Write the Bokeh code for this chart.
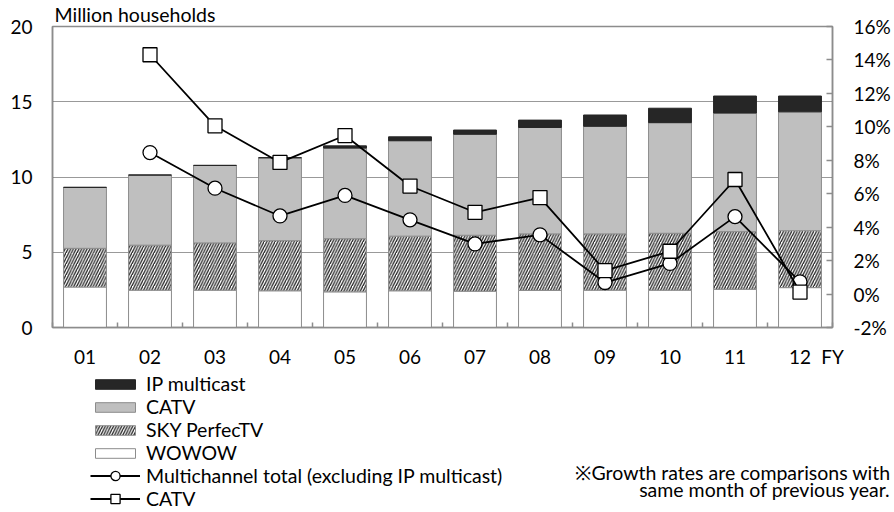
import numpy as np
import pandas as pd
from bokeh.plotting import figure
from bokeh.layouts import column
from bokeh.models import (ColumnDataSource, Range1d, LinearAxis, FixedTicker,
                          Label, Legend, LegendItem)
from bokeh.embed import file_html
from bokeh.resources import INLINE

# ---------------- data ----------------
years = ["01", "02", "03", "04", "05", "06", "07", "08", "09", "10", "11", "12"]
wowow = [2.69, 2.48, 2.48, 2.44, 2.37, 2.44, 2.41, 2.46, 2.48, 2.48, 2.54, 2.65]
sky = [2.57, 2.99, 3.14, 3.33, 3.53, 3.63, 3.72, 3.76, 3.74, 3.78, 3.83, 3.78]
catv = [4.05, 4.66, 5.15, 5.51, 6.02, 6.34, 6.71, 7.07, 7.15, 7.35, 7.88, 7.90]
ip_multicast = [0, 0, 0, 0, 0.15, 0.26, 0.28, 0.49, 0.75, 0.96, 1.13, 1.05]
growth_multichannel = [None, 8.46, 6.33, 4.67, 5.90, 4.44, 3.00, 3.54, 0.69, 1.83, 4.63, 0.73]
growth_catv = [None, 14.31, 10.06, 7.87, 9.48, 6.46, 4.89, 5.77, 1.40, 2.56, 6.85, 0.12]
left_ticks = [0, 5, 10, 15, 20]
right_ticks = [-2, 0, 2, 4, 6, 8, 10, 12, 14, 16]
fiscal_label = "FY"

FONT = "Lato"
TEXT_SIZE = "19.5px"
TICK_SIZE = "19px"
AXIS_GRAY = "#8c8c8c"
W_TOTAL = 894
TOP_H = 370
BOT_H = 142

STYLE_WOWOW = dict(fill_color="white", line_color=AXIS_GRAY, line_width=1)
STYLE_SKY = dict(fill_color="white", line_color=AXIS_GRAY, line_width=1,
                 hatch_pattern="right_diagonal_line", hatch_color="#222222",
                 hatch_scale=5.5, hatch_weight=1.3)
STYLE_CATV = dict(fill_color="#bfbfbf", line_color=AXIS_GRAY, line_width=1)
STYLE_IP = dict(fill_color="#262626", line_color="#262626", line_width=1)
STYLE_LINE = dict(line_color="black", line_width=1.8)
STYLE_MARK = dict(fill_color="white", line_color="black", line_width=1.3)

df = pd.DataFrame({"year": years, "wowow": wowow, "sky": sky, "catv": catv, "ip": ip_multicast})
df["x"] = np.arange(1, len(years) + 1)
df["b0"] = 0.0
df["t_wowow"] = df["wowow"]
df["t_sky"] = df["t_wowow"] + df["sky"]
df["t_catv"] = df["t_sky"] + df["catv"]
df["t_ip"] = df["t_catv"] + df["ip"]
src = ColumnDataSource(df)

lines = pd.DataFrame({"x": df["x"],
                      "multi": pd.Series(growth_multichannel, dtype="float"),
                      "catv_g": pd.Series(growth_catv, dtype="float")}).dropna()
lsrc = ColumnDataSource(lines)

# ---------------- main figure ----------------
p = figure(width=W_TOTAL, height=TOP_H, output_backend="svg", toolbar_location=None,
           x_range=Range1d(0.5, 12.5), y_range=Range1d(0, 20),
           title="Million households",
           min_border_left=52, min_border_right=62, min_border_top=25,
           min_border_bottom=34)
p.frame_align = False
p.extra_y_ranges = {"pct": Range1d(-2, 16)}
p.background_fill_color = "white"
p.border_fill_color = "white"
p.outline_line_color = AXIS_GRAY
p.outline_line_width = 1.5

p.title.align = "left"
p.title.offset = 2
p.title.standoff = 1
p.title.text_font = FONT
p.title.text_font_size = TEXT_SIZE
p.title.text_font_style = "normal"
p.title.text_color = "black"

# grid
p.xgrid.visible = False
p.ygrid.ticker = FixedTicker(ticks=[5, 10, 15])
p.ygrid.grid_line_color = "#333333"
p.ygrid.grid_line_dash = "1 1"
p.ygrid.grid_line_width = 1

# x axis (last tick at the frame edge carries the "FY" label)
xa = p.xaxis[0]
x_ticks = list(df["x"]) + [12.5]
xa.ticker = FixedTicker(ticks=x_ticks, minor_ticks=[i + 0.5 for i in range(0, 13)])
overrides = {int(x): y for x, y in zip(df["x"], years)}
overrides[12.5] = fiscal_label
xa.major_label_overrides = overrides
xa.major_tick_line_color = None
xa.minor_tick_in = 5
xa.minor_tick_out = 0
xa.minor_tick_line_color = AXIS_GRAY
xa.minor_tick_line_width = 1.5
xa.axis_line_color = AXIS_GRAY
xa.axis_line_width = 1.5
xa.major_label_standoff = 11
xa.major_label_text_font = FONT
xa.major_label_text_font_size = TICK_SIZE
xa.major_label_text_color = "black"

# left axis
ya = p.yaxis[0]
ya.ticker = FixedTicker(ticks=left_ticks)
ya.major_tick_in = 0
ya.major_tick_out = 0
ya.minor_tick_line_color = None
ya.axis_line_color = AXIS_GRAY
ya.axis_line_width = 1.5
ya.major_label_standoff = 20
ya.major_label_text_font = FONT
ya.major_label_text_font_size = TICK_SIZE
ya.major_label_text_color = "black"

# right axis
ra = LinearAxis(y_range_name="pct", ticker=FixedTicker(ticks=right_ticks))
ra.major_label_overrides = {t: f"{t}%" for t in right_ticks}
ra.major_tick_in = 6
ra.major_tick_out = 0
ra.major_tick_line_color = AXIS_GRAY
ra.major_tick_line_width = 1.5
ra.minor_tick_line_color = None
ra.axis_line_color = AXIS_GRAY
ra.axis_line_width = 1.5
ra.major_label_standoff = 21
ra.major_label_text_font = FONT
ra.major_label_text_font_size = TICK_SIZE
ra.major_label_text_color = "black"
p.add_layout(ra, "right")

# bars
W = 0.66
p.vbar(x="x", bottom="b0", top="t_wowow", width=W, source=src, **STYLE_WOWOW)
p.vbar(x="x", bottom="t_wowow", top="t_sky", width=W, source=src, **STYLE_SKY)
p.vbar(x="x", bottom="t_sky", top="t_catv", width=W, source=src, **STYLE_CATV)
p.vbar(x="x", bottom="t_catv", top="t_ip", width=W, source=src, **STYLE_IP)

# growth lines
p.line("x", "multi", source=lsrc, y_range_name="pct", **STYLE_LINE)
p.scatter("x", "multi", source=lsrc, y_range_name="pct", marker="circle", size=14, **STYLE_MARK)
p.line("x", "catv_g", source=lsrc, y_range_name="pct", **STYLE_LINE)
p.scatter("x", "catv_g", source=lsrc, y_range_name="pct", marker="square", size=14, **STYLE_MARK)

# ---------------- legend / note figure ----------------
q = figure(width=W_TOTAL, height=BOT_H, output_backend="svg", toolbar_location=None,
           x_range=Range1d(0, W_TOTAL), y_range=Range1d(BOT_H, 0),
           x_axis_location=None, y_axis_location=None,
           min_border=0, min_border_left=0, min_border_right=0,
           min_border_top=0, min_border_bottom=0)
q.frame_align = False
q.outline_line_color = None
q.grid.visible = False
q.background_fill_color = "white"
q.border_fill_color = "white"

# legend-key renderers: a single undrawn (NaN) entry each, only for the legend keys
key = ColumnDataSource(dict(x=[np.nan], y=[np.nan], b=[np.nan], t=[np.nan]))
k_ip = q.vbar(x="x", bottom="b", top="t", width=1, source=key, **STYLE_IP)
k_catv = q.vbar(x="x", bottom="b", top="t", width=1, source=key, **STYLE_CATV)
k_sky = q.vbar(x="x", bottom="b", top="t", width=1, source=key, **STYLE_SKY)
k_wowow = q.vbar(x="x", bottom="b", top="t", width=1, source=key, **STYLE_WOWOW)
k_l1 = q.line("x", "y", source=key, **STYLE_LINE)
k_m1 = q.scatter("x", "y", source=key, marker="circle", **STYLE_MARK)
k_l2 = q.line("x", "y", source=key, **STYLE_LINE)
k_m2 = q.scatter("x", "y", source=key, marker="square", **STYLE_MARK)


def style_legend(lg):
    lg.border_line_color = None
    lg.background_fill_alpha = 0
    lg.padding = 0
    lg.margin = 0
    lg.spacing = 0
    lg.label_text_font = FONT
    lg.label_text_font_size = TEXT_SIZE
    lg.label_text_color = "black"
    lg.label_standoff = 6
    lg.glyph_width = 50
    lg.label_height = 23
    lg.orientation = "vertical"


bar_legend = Legend(items=[
    LegendItem(label="IP multicast", renderers=[k_ip]),
    LegendItem(label="CATV", renderers=[k_catv]),
    LegendItem(label="SKY PerfecTV", renderers=[k_sky]),
    LegendItem(label="WOWOW", renderers=[k_wowow]),
], location=(90, 48))
style_legend(bar_legend)
bar_legend.glyph_height = 12
q.add_layout(bar_legend, "center")

line_legend = Legend(items=[
    LegendItem(label="Multichannel total (excluding IP multicast)", renderers=[k_l1, k_m1]),
    LegendItem(label="CATV", renderers=[k_l2, k_m2]),
], location=(90, 2))
style_legend(line_legend)
line_legend.glyph_height = 23
q.add_layout(line_legend, "center")

note_lines = ["※Growth rates are comparisons with", "same month of previous year."]
for text, yy in zip(note_lines, [101.5, 118.5]):
    q.add_layout(Label(x=890, y=yy, text=text, text_font=FONT, text_font_size=TEXT_SIZE,
                       text_color="black", text_align="right", text_baseline="middle"))

layout = column(p, q, spacing=0)
open("out.html", "w").write(file_html(layout, INLINE))
